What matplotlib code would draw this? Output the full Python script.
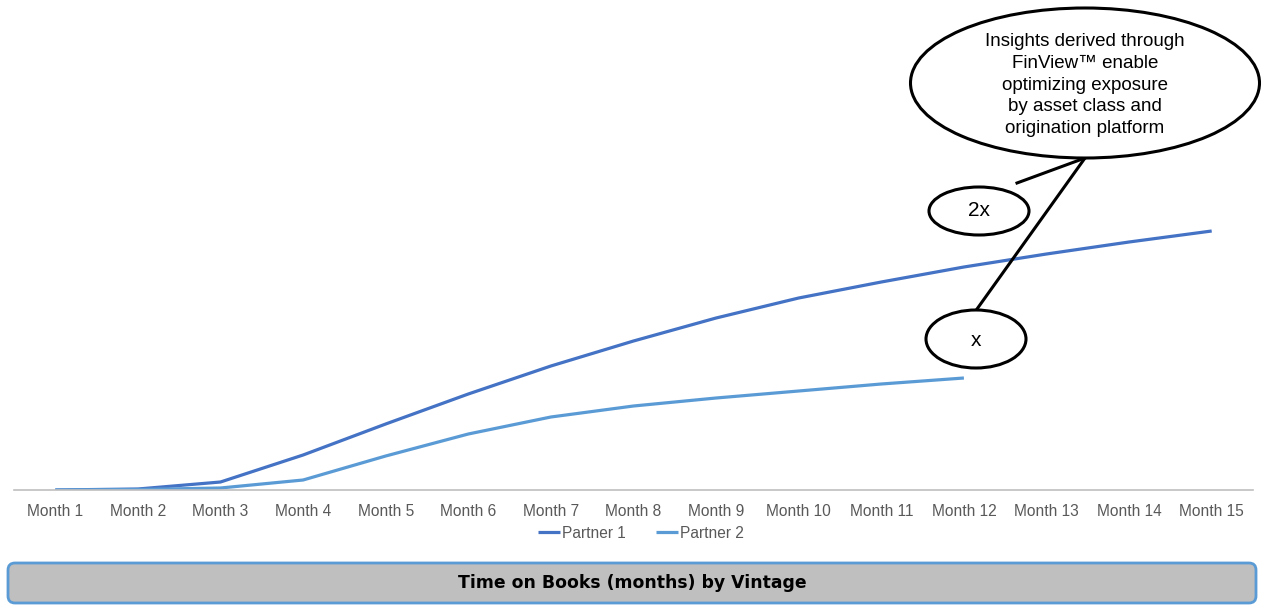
import matplotlib
matplotlib.use("Agg")
import matplotlib.pyplot as plt
from matplotlib.patches import Ellipse, FancyBboxPatch

months = [f"Month {i}" for i in range(1, 16)]
partner1 = [0, 1, 8, 35, 66, 96, 124, 149, 172, 192, 208, 223, 236, 248, 259]
partner2 = [0, 0.5, 2, 10, 34, 56, 73, 84, 92, 99, 106, 112]
series_names = ["Partner 1", "Partner 2"]
callout_text = "Insights derived through\nFinView\u2122 enable\noptimizing exposure\nby asset class and\norigination platform"
label_2x = "2x"
label_x = "x"
banner_text = "Time on Books (months) by Vintage"

W, H = 1262, 608
fig = plt.figure(figsize=(W / 100, H / 100), dpi=100)
plt.rcParams['font.family'] = ['Liberation Sans', 'DejaVu Sans']

ax = fig.add_axes([14 / W, 1 - 490 / H, (1253 - 14) / W, 490 / H])
x1 = list(range(len(partner1)))
x2 = list(range(len(partner2)))
l1, = ax.plot(x1, partner1, color="#4472C4", lw=2.3, solid_capstyle="butt", label=series_names[0])
l2, = ax.plot(x2, partner2, color="#5B9BD5", lw=2.3, solid_capstyle="butt", label=series_names[1])
ax.set_xlim(-0.5, len(months) - 0.5)
ax.set_ylim(0, 490)
ax.set_xticks(range(len(months)))
ax.set_xticklabels(months, fontsize=11.2, color="#595959")
ax.tick_params(axis="x", length=0, pad=10)
ax.set_yticks([])
for s in ["top", "right", "left"]:
    ax.spines[s].set_visible(False)
ax.spines["bottom"].set_color("#BFBFBF")
ax.spines["bottom"].set_linewidth(1.2)

fig.legend(handles=[l1, l2], loc="center", bbox_to_anchor=(641 / W, 1 - 533 / H), ncol=2,
           frameon=False, fontsize=11.2, handlelength=1.4, handletextpad=0.1, columnspacing=2.0,
           labelcolor="#595959")

ov = fig.add_axes([0, 0, 1, 1])
ov.set_xlim(0, W)
ov.set_ylim(H, 0)
ov.axis("off")
ov.patch.set_alpha(0)

# connectors
ov.plot([1085, 1017], [158, 183], color="black", lw=2.2, zorder=2)
ov.plot([1085, 977], [158, 309], color="black", lw=2.2, zorder=2)

ov.add_patch(Ellipse((1085, 83), 349, 150, facecolor="white", edgecolor="black", lw=2.2, zorder=3))
ov.text(1085, 85, callout_text, ha="center", va="center", fontsize=13.5, linespacing=1.36,
        color="black", zorder=4, family=['Liberation Sans', 'DejaVu Sans'])
ov.add_patch(Ellipse((979, 211), 100, 48, facecolor="white", edgecolor="black", lw=2.2, zorder=3))
ov.text(979, 211, label_2x, ha="center", va="center", fontsize=15, zorder=4)
ov.add_patch(Ellipse((976, 339), 100, 58, facecolor="white", edgecolor="black", lw=2.2, zorder=3))
ov.text(976, 340, label_x, ha="center", va="center", fontsize=15, zorder=4)

ov.add_patch(FancyBboxPatch((8, 563), 1248, 40, boxstyle="round,pad=0,rounding_size=7",
                            facecolor="#BFBFBF", edgecolor="#5B9BD5", lw=2, zorder=3))
ov.text(632, 583, banner_text, ha="center", va="center", fontsize=12.4, fontweight="bold",
        family=['DejaVu Sans'], color="black", zorder=4)

fig.savefig("out.png", dpi=100)
